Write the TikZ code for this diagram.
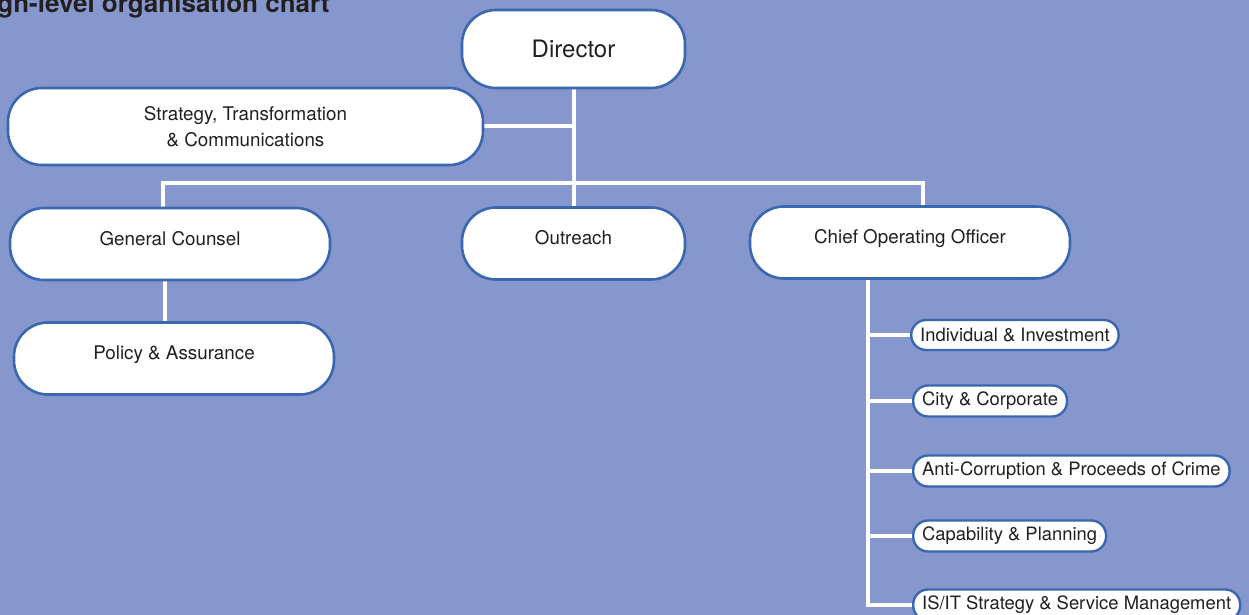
\documentclass[tikz,border=0pt]{standalone}
\usepackage{fontspec}
\setmainfont{TeX Gyre Heros}
\usepackage{xcolor}
\usetikzlibrary{positioning,backgrounds}
\definecolor{chartbg}{RGB}{133,151,204}
\definecolor{boxline}{RGB}{59,103,176}
\definecolor{boxtext}{RGB}{35,31,32}

\begin{document}
\begin{tikzpicture}[
    x=0.5pt, y=-0.5pt,
    unit/.style={rectangle, draw=boxline, line width=1.3pt, fill=white, rounded corners=17pt, text=boxtext, align=center, font=\fontsize{9.4}{13}\selectfont, minimum width=160pt, minimum height=36pt},
    raised/.style={text depth=6pt},
    topunit/.style={unit, font=\fontsize{12}{14}\selectfont, minimum width=111.5pt, minimum height=39pt},
    subunit/.style={rectangle, draw=boxline, line width=1.2pt, fill=white, rounded corners=7.5pt, text=boxtext, font=\fontsize{9.2}{10}\selectfont, inner xsep=4.5pt, minimum height=15pt, anchor=west},
    link/.style={draw=white, line width=2pt}
]
\useasboundingbox (0,0) rectangle (1249,615);

% Title
\node[anchor=base west, inner sep=0pt, text=boxtext, font=\fontsize{13}{14}\bfseries\selectfont] (title) at (-3,13) {gh-level organisation chart};

% Top level
\node[topunit] (director) at (573.5,49) {Director};
\node[unit, minimum width=237.5pt, minimum height=38.5pt] (strategy) at (245.5,126.5) {Strategy, Transformation\\\& Communications};

% Second level
\node[unit, raised] (counsel) at (170,244) {General Counsel};
\node[unit, raised, minimum width=111.5pt] (outreach) at (573.5,243.5) {Outreach};
\node[unit, raised] (coo) at (910,242.5) {Chief Operating Officer};
\node[unit, raised] (policy) at (174,358.5) {Policy \& Assurance};

% Operations divisions
\node[subunit] (individual) at (910,335) {Individual \& Investment};
\node[subunit] (city) at (912,401) {City \& Corporate};
\node[subunit] (anticorruption) at (912,471) {Anti-Corruption \& Proceeds of Crime};
\node[subunit] (capability) at (912,536) {Capability \& Planning};
\node[subunit] (isit) at (912,605) {IS/IT Strategy \& Service Management};

\coordinate (bar) at (573.5,183);
\coordinate (spine) at ([xshift=-21pt]coo.south);

\begin{pgfonlayer}{background}
\fill[chartbg] (0,0) rectangle (1249,615);

% Reporting lines
\draw[link] (director.south) -- (outreach.north);
\draw[link] (strategy.east) -- (strategy.east -| director.south);
\draw[link] ([xshift=-3.5pt]counsel.north) |- (bar) -| ([xshift=6.5pt]coo.north);
\draw[link] ([xshift=-2.5pt]counsel.south) -- ([xshift=-2.5pt]counsel.south |- policy.north);

% COO branches
\draw[link] (spine) |- (individual.west);
\draw[link] (spine) |- (city.west);
\draw[link] (spine) |- (anticorruption.west);
\draw[link] (spine) |- (capability.west);
\draw[link] (spine) |- (isit.west);
\end{pgfonlayer}

\end{tikzpicture}
\end{document}
